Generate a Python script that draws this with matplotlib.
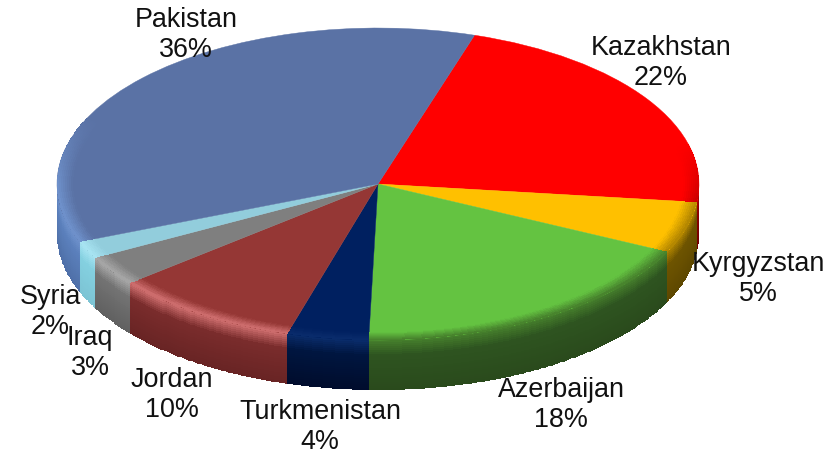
import matplotlib
matplotlib.use("Agg")
import matplotlib.pyplot as plt
from matplotlib.colors import to_rgb
import numpy as np

plt.rcParams["font.family"] = ["Liberation Sans", "DejaVu Sans"]

countries = ["Kazakhstan", "Kyrgyzstan", "Azerbaijan", "Turkmenistan", "Jordan", "Iraq", "Syria", "Pakistan"]
# slice sizes estimated from the drawn angles, labels show them rounded
shares = [22.0, 5.3, 18.3, 4.1, 9.5, 3.1, 1.8, 35.9]

top_colors = ["#ff0000", "#ffc000", "#64c341", "#002060", "#953735", "#7f7f7f", "#92cddc", "#5a72a5"]
rim_colors = ["#c00000", "#b08400", "#46802c", "#0a2c6c", "#d07070", "#a8a8a8", "#a8e4f2", "#6f92cc"]
side_colors = ["#900000", "#6e5400", "#2e5420", "#001640", "#7a2c2c", "#737373", "#84d0e0", "#5b80bc"]
foot_colors = ["#700000", "#5e4800", "#2a4a1c", "#000c2c", "#682424", "#606060", "#7cc4d4", "#4f70a8"]

# label centres in image pixels
label_pos = [(661, 63), (758, 279), (561, 405), (320, 427), (172, 395), (90, 353), (50, 312), (186, 35)]

W, H = 839, 454
CX, CY, RX, RY = 378, 184, 321, 156
DEPTH = 50 / RY
START = 72.5
BEVEL = 0.05


def px(x, y):
    return (x - CX) / RX, (CY - y) / RY


def mix(a, b, t):
    return a + (b - a) * t


def draw_side(ax, a0, a1, rim, side, foot):
    # only the front half of the rim can be seen
    lo, hi = max(a1, -180), min(a0, 0)
    if hi <= lo:
        return
    th = np.radians(np.linspace(lo, hi, int(hi - lo) * 2 + 2))
    t = np.linspace(0, 1, 26)
    X = np.outer(np.ones_like(t), np.cos(th))
    Y = np.sin(th)[None, :] - DEPTH * t[:, None]
    rim, side, foot = [np.array(to_rgb(c)) for c in (rim, side, foot)]
    mid = (t[:-1] + t[1:]) / 2
    rgb = np.zeros((len(mid), 3))
    for i, v in enumerate(mid):
        if v < 0.3:
            rgb[i] = mix(rim, side, v / 0.3)
        else:
            rgb[i] = mix(side, foot, (v - 0.3) / 0.7)
    C = np.repeat(rgb[:, None, :], len(th) - 1, axis=1)
    ax.pcolormesh(X, Y, C, shading="flat", linewidth=0, antialiased=False, zorder=1)


def draw_bevel(ax, a0, a1, top, rim):
    # soft lip on the top face, fades out round the back of the pie
    span_lo, span_hi = -205, 15
    top, rim = np.array(to_rgb(top)), np.array(to_rgb(rim))
    for b0, b1 in [(a1, a0), (a1 + 360, a0 + 360), (a1 - 360, a0 - 360)]:
        lo, hi = max(b0, span_lo), min(b1, span_hi)
        if hi <= lo:
            continue
        deg = np.linspace(lo, hi, int(hi - lo) * 2 + 2)
        th = np.radians(deg)
        r = np.linspace(1 - BEVEL, 1, 9)
        X = np.outer(r, np.cos(th))
        Y = np.outer(r, np.sin(th))
        mid_deg = (deg[:-1] + deg[1:]) / 2
        fade = np.clip(np.minimum(mid_deg - span_lo, span_hi - mid_deg) / 25, 0, 1)
        ramp = (np.arange(len(r) - 1) + 0.5) / (len(r) - 1)
        amount = np.outer(ramp, fade)[..., None]
        C = top + (rim - top) * amount
        ax.pcolormesh(X, Y, C, shading="flat", linewidth=0, antialiased=False, zorder=3)


fig = plt.figure(figsize=(W / 100, H / 100), dpi=100, facecolor="white")
ax = fig.add_axes([0, 0, 1, 1])

angle = START
for share, top, rim, side, foot in zip(shares, top_colors, rim_colors, side_colors, foot_colors):
    next_angle = angle - share * 3.6
    draw_side(ax, angle, next_angle, rim, side, foot)
    draw_bevel(ax, angle, next_angle, top, rim)
    angle = next_angle

wedges, _ = ax.pie(shares, colors=top_colors, startangle=START, counterclock=False,
                   wedgeprops={"linewidth": 0.3, "zorder": 2})
for wedge, color in zip(wedges, top_colors):
    wedge.set_edgecolor(color)

ax.set_xlim(-CX / RX, (W - CX) / RX)
ax.set_ylim((CY - H) / RY, CY / RY)
ax.set_aspect("auto")
ax.axis("off")

for name, share, (x, y) in zip(countries, shares, label_pos):
    lx, ly = px(x, y)
    ax.text(lx, ly, f"{name}\n{round(share)}%", ha="center", va="center", fontsize=19.4,
            color="#111111", linespacing=1.18, zorder=5)

fig.savefig("out.png", dpi=100, facecolor="white")
plt.close(fig)
